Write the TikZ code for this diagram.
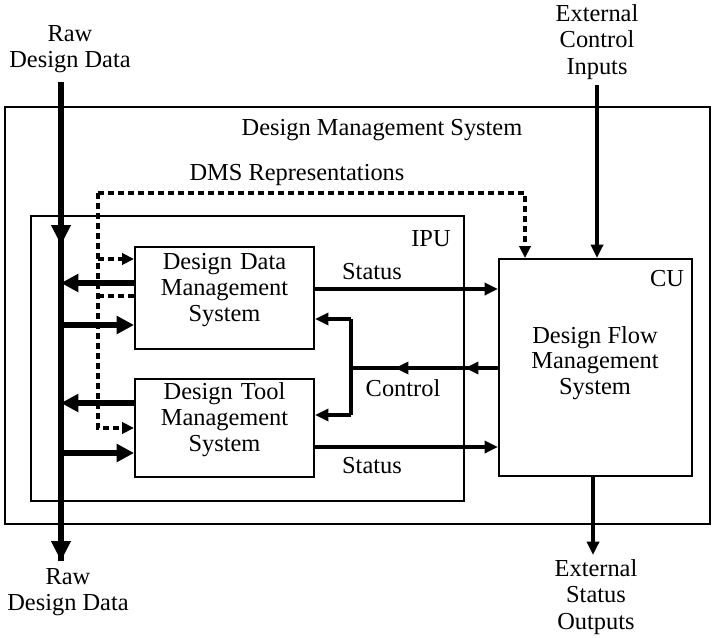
\documentclass[tikz,border=0pt]{standalone}
\usepackage{fontspec}
\setmainfont{Liberation Serif}
\usetikzlibrary{arrows.meta,fit}

\tikzset{
  every node/.style={font=\fontsize{18.3}{19.3}\selectfont, inner sep=0pt},
  box/.style={draw, line width=1.5pt, inner sep=0pt},
  label3/.style={align=center, font=\fontsize{18.3}{20}\selectfont},
  bus/.style={line width=4.5pt},
  bustip/.style={-{Triangle[length=15pt,width=14pt]}},
  branch/.style={line width=4.3pt, -{Triangle[length=13pt,width=13pt]}},
  sig/.style={line width=3pt, -{Triangle[length=10pt,width=9pt]}},
  ctrlline/.style={line width=3pt},
  dmsline/.style={line width=2.6pt, dash pattern=on 4.5pt off 3pt},
  dmstip/.style={-{Triangle[length=9pt,width=8.5pt]}}
}

\begin{document}
\begin{tikzpicture}[x=0.75pt, y=-0.75pt]
  \useasboundingbox (0,0) rectangle (713,638);

  % enclosing boxes
  \node[draw, line width=1.9pt, fit={(5,107) (710,524)}] (dms) {};
  \node at (382,130) (dmstitle) {Design Management System};
  \node[draw, line width=1.1pt, fit={(31,216) (464,501)}] (ipu) {};
  \node at (431,239) (ipulabel) {IPU};

  % processing units
  \node[box, fit={(135,247) (314,349)}, align=center] (ddms) {Design Data\\Management\\System};
  \node[box, fit={(135,379) (314,477)}, align=center] (dtms) {Design Tool\\Management\\System};
  \node[box, fit={(499,259) (692,476)}] (cu) {};
  \node at (667,279) (culabel) {CU};
  \node[align=center] at (595,363) (dfms) {Design Flow\\Management\\System};

  % external labels
  \node[label3] at (70,49) (rawin) {Raw\\Design Data};
  \node[label3] at (68,592) (rawout) {Raw\\Design Data};
  \node[label3] at (597,42) (extin) {External\\Control\\Inputs};
  \node[label3] at (596,597) (extout) {External\\Status\\Outputs};

  % raw design data bus
  \coordinate (bustop) at (61,82);
  \coordinate (busmid) at (61,245);
  \coordinate (busbot) at (61,561);
  \draw[bus] (bustop) -- (busbot);
  \draw[bus, bustip] (bustop) -- (busmid);
  \draw[bus, bustip] (busmid) -- (busbot);

  \coordinate (b1) at (61,283);
  \coordinate (b2) at (61,325);
  \coordinate (b3) at (61,403);
  \coordinate (b4) at (61,453);
  \draw[branch] (ddms.west |- b1) -- (b1);
  \draw[branch] (b2) -- (ddms.west |- b2);
  \draw[branch] (dtms.west |- b3) -- (b3);
  \draw[branch] (b4) -- (dtms.west |- b4);

  % DMS representations (dashed)
  \node at (297,175) (dmsrep) {DMS Representations};
  \coordinate (dtop) at (98,193);
  \coordinate (dright) at (525,193);
  \coordinate (d1) at (98,259);
  \coordinate (d2) at (98,296);
  \coordinate (dbot) at (98,428);
  \draw[dmsline, dmstip] (dtop) -- (dright) -- (cu.north -| dright);
  \draw[dmsline, dmstip] (dtop) -- (dbot) -- (dtms.west |- dbot);
  \draw[dmsline, dmstip] (d1) -- (ddms.west |- d1);
  \draw[dmsline] (ddms.west |- d2) -- (d2);

  % status paths
  \coordinate (s1) at (400,289);
  \coordinate (s2) at (400,447);
  \draw[sig] (ddms.east |- s1) -- (cu.west |- s1);
  \draw[sig] (dtms.east |- s2) -- (cu.west |- s2);
  \node at (372,272) (status1) {Status};
  \node at (372,466) (status2) {Status};

  % control paths
  \coordinate (cm) at (351,368);
  \coordinate (ca) at (465,368);
  \coordinate (cb) at (395,368);
  \coordinate (c1) at (351,319);
  \coordinate (c2) at (351,415);
  \draw[ctrlline] (cu.west |- cm) -- (cm);
  \draw[sig] (cu.west |- cm) -- (ca);
  \draw[sig] (ca) -- (cb);
  \draw[ctrlline] (c1) -- (c2);
  \draw[sig] (c1) -- (ddms.east |- c1);
  \draw[sig] (c2) -- (dtms.east |- c2);
  \node at (403,388) (control) {Control};

  % external control and status
  \coordinate (ei) at (597,85);
  \coordinate (eo) at (593,555);
  \draw[sig] (ei) -- (cu.north -| ei);
  \draw[sig] (cu.south -| eo) -- (eo);
\end{tikzpicture}
\end{document}
